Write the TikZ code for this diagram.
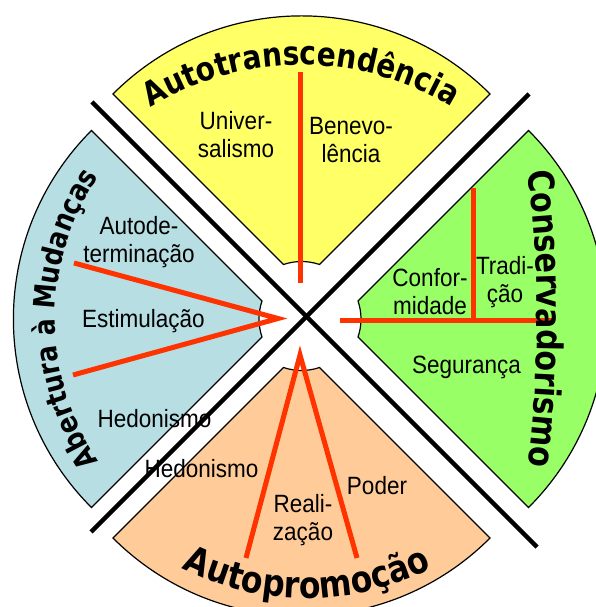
\documentclass[tikz,border=0pt]{standalone}
\usepackage{fontspec}
\usetikzlibrary{decorations.text}
\newfontfamily\labelfont[FakeStretch=0.9]{Liberation Sans}
\newfontfamily\titlefont[FakeStretch=0.85]{DejaVu Sans Bold}
\definecolor{myYellow}{HTML}{FFFF66}
\definecolor{myBlue}{HTML}{B7DEE3}
\definecolor{myGreen}{HTML}{99FF66}
\definecolor{myOrange}{HTML}{FFCC99}
\definecolor{myRed}{HTML}{FF3300}

% Sektor: Spitze, Richtung, Farbe
\newcommand{\Sektor}[3]{%
	\begin{scope}[shift={#1}, rotate=#2]
		\filldraw[sektor, fill=#3] (18,18) -- (45:266.6)
			arc[start angle=45, end angle=-45, radius=266.6] -- (18,-18)
			arc[start angle=-18.92, end angle=18.92, radius=55.5] -- cycle;
	\end{scope}}

\begin{document}
\begin{tikzpicture}[x=1pt, y=1pt]
	\tikzset{sektor/.style = {draw=black, line width=1.2pt}}
	\tikzset{teiler/.style = {draw=black, line width=4.5pt}}
	\tikzset{trenn/.style = {draw=myRed, line width=5pt}}
	\tikzset{wert/.style = {font=\labelfont\fontsize{25}{28}\selectfont, align=center, inner sep=0pt}}
	\tikzset{titel/.style = {decorate, decoration={text along path, text align=center, text={#1}}}}
	\useasboundingbox (0,0) rectangle (596,607);
	\clip (0,0) rectangle (596,607);
	
	% Sektoren
	\Sektor{(301.5,324.5)}{90}{myYellow}
	\Sektor{(280,288)}{180}{myBlue}
	\Sektor{(340,288)}{0}{myGreen}
	\Sektor{(301.5,257.5)}{270}{myOrange}
	
	% Kreuz
	\coordinate (k1) at (92,505);
	\coordinate (k2) at (537,60);
	\coordinate (k3) at (91,75);
	\coordinate (k4) at (529,513);
	\draw[teiler] (k1) -- (k2);
	\draw[teiler] (k3) -- (k4);
	
	% Trennlinien
	\coordinate (y1) at (300,535);
	\coordinate (y2) at (300,324);
	\coordinate (b1) at (74,344);
	\coordinate (b0) at (278,288.5);
	\coordinate (b2) at (73,232);
	\coordinate (g1) at (340,286);
	\coordinate (g2) at (552,286);
	\coordinate (g3) at (473,419);
	\coordinate (g4) at (473,286);
	\coordinate (o0) at (300,252);
	\coordinate (o1) at (246,49);
	\coordinate (o2) at (357,49);
	\draw[trenn] (y1) -- (y2);
	\draw[trenn] (b1) -- (b0) -- (b2);
	\draw[trenn] (g1) -- (g2);
	\draw[trenn] (g3) -- (g4);
	\draw[trenn] (o1) -- (o0) -- (o2);
	
	% Werte
	\node[wert] (univ) at (236,472) {Univer-\\salismo};
	\node[wert] (bene) at (351,467) {Benevo-\\lência};
	\node[wert] (autod) at (139,364.5) {Autode-\\terminação};
	\node[wert, anchor=base] (estim) at (143.5,279) {Estimulação};
	\node[wert, anchor=base] (hedoA) at (154.5,179) {Hedonismo};
	\node[wert, anchor=base] (hedoB) at (201.5,129) {Hedonismo};
	\node[wert] (reali) at (303,87) {Reali-\\zação};
	\node[wert, anchor=base] (poder) at (377,112) {Poder};
	\node[wert] (confor) at (430,315) {Confor-\\midade};
	\node[wert] (tradi) at (505,324.5) {Tradi-\\ção};
	\node[wert, anchor=base] (segur) at (466.5,233) {Segurança};
	
	% Titel
	\path[titel={|\titlefont\fontsize{33}{36}\selectfont|Autotranscendência}]
		(301,253) ++(150:289) arc[start angle=150, end angle=30, radius=289];
	\path[titel={|\titlefont\fontsize{29.5}{32}\selectfont|Abertura à Mudanças}]
		(308,288) ++(215:253) arc[start angle=215, end angle=145, radius=253];
	\path[titel={|\titlefont\fontsize{35.5}{38}\selectfont|Conservadorismo}]
		(-663,288) ++(8:1200) arc[start angle=8, end angle=-8, radius=1200];
	\path[titel={|\titlefont\fontsize{37}{40}\selectfont|Autopromoção}]
		(307,290) ++(230:281) arc[start angle=230, end angle=310, radius=281];
	
\end{tikzpicture}
\end{document}
